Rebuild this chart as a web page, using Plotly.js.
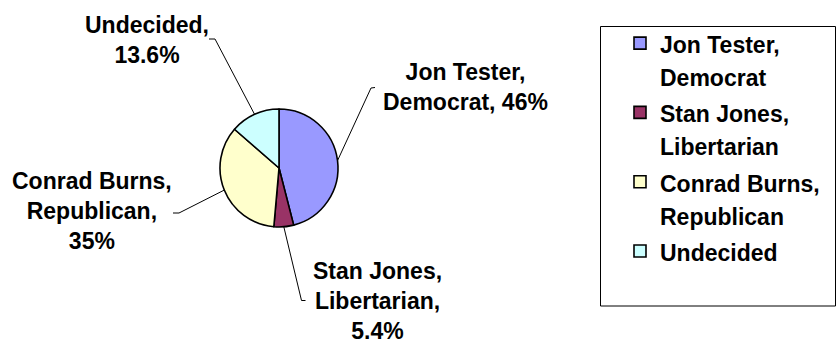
<!DOCTYPE html>
<html>
<head>
<meta charset="utf-8">
<script src="https://cdn.plot.ly/plotly-3.0.1.min.js"></script>
<style>
  html, body { margin: 0; padding: 0; background: #fff; }
  #chart { width: 838px; height: 343px; }
</style>
</head>
<body>
<div id="chart"></div>
<script>
// ---- data ----
var candidates = ["Jon Tester", "Stan Jones", "Conrad Burns", "Undecided"];
var parties = ["Democrat", "Libertarian", "Republican", ""];
var shares = [46, 5.4, 35, 13.6];
var shareLabels = ["46%", "5.4%", "35%", "13.6%"];
var legendLabels = ["Jon Tester,<br>Democrat", "Stan Jones,<br>Libertarian", "Conrad Burns,<br>Republican", "Undecided"];
var dataLabels = ["Jon Tester,<br>Democrat, 46%", "Stan Jones,<br>Libertarian,<br>5.4%", "Conrad Burns,<br>Republican,<br>35%", "Undecided,<br>13.6%"];
var sliceColors = ["#9999FF", "#993366", "#FFFFCC", "#CCFFFF"];

// ---- layout constants (pixels) ----
var W = 838, H = 343;
var CX = 279, CY = 168, R = 59;
// label block centres and leader-line elbows / tick ends
var labelPos = [[465, 87], [377, 301], [92, 211], [147, 40]];
var elbows = [[371, 88], [301.5, 300.5], [179, 213], [215, 39]];
var tickEnds = [[375, 87.5], [305.5, 300.5], [173, 213], [209, 39]];

function px(x) { return x / W; }
function py(y) { return 1 - y / H; }

var FONT = "Liberation Sans, Arial, Helvetica, sans-serif";

var trace = {
  type: "pie",
  labels: legendLabels.map(function (l) {
    return l.split("<br>").map(function (s) { return '<span style="font-size:23px">' + s + '</span>'; }).join("<br>");
  }),
  values: shares,
  sort: false,
  direction: "clockwise",
  rotation: 0,
  textinfo: "none",
  textposition: "none",
  hoverinfo: "label+percent",
  marker: { colors: sliceColors, line: { color: "#000000", width: 1.6 } },
  domain: { x: [px(CX - R), px(CX + R)], y: [py(CY + R), py(CY - R)] },
  showlegend: true
};

// leader lines from slice mid-angles
var total = shares.reduce(function (a, b) { return a + b; }, 0);
var shapes = [];
var annotations = [];
var cum = 0;
for (var i = 0; i < shares.length; i++) {
  var mid = (cum + shares[i] / 2) / total * 2 * Math.PI;
  cum += shares[i];
  var ex = CX + R * Math.sin(mid);
  var ey = CY - R * Math.cos(mid);
  shapes.push({
    type: "path", xref: "paper", yref: "paper",
    path: "M" + px(ex) + "," + py(ey) + " L" + px(elbows[i][0]) + "," + py(elbows[i][1]) +
          " L" + px(tickEnds[i][0]) + "," + py(tickEnds[i][1]),
    line: { color: "#000000", width: 1 }
  });
  annotations.push({
    xref: "paper", yref: "paper",
    x: px(labelPos[i][0]), y: py(labelPos[i][1]),
    xanchor: "center", yanchor: "middle", align: "center",
    showarrow: false,
    text: dataLabels[i],
    font: { family: FONT, size: 23, weight: "bold", color: "#000000" }
  });
}

// legend frame
shapes.push({
  type: "rect", xref: "paper", yref: "paper",
  x0: px(600.5), x1: px(835.5), y0: py(306), y1: py(26.5),
  line: { color: "#000000", width: 1 }, fillcolor: "rgba(0,0,0,0)"
});

var layout = {
  width: W, height: H,
  margin: { l: 0, r: 0, t: 0, b: 0, pad: 0 },
  paper_bgcolor: "#ffffff",
  plot_bgcolor: "#ffffff",
  showlegend: true,
  legend: {
    x: px(620), xanchor: "left",
    y: py(20), yanchor: "top",
    valign: "top",
    bgcolor: "rgba(0,0,0,0)",
    borderwidth: 0,
    font: { family: FONT, size: 25.5, weight: "bold", color: "#000000" },
    traceorder: "normal"
  },
  shapes: shapes,
  annotations: annotations
};

Plotly.newPlot("chart", [trace], layout, { displayModeBar: false, staticPlot: true });
</script>
</body>
</html>
